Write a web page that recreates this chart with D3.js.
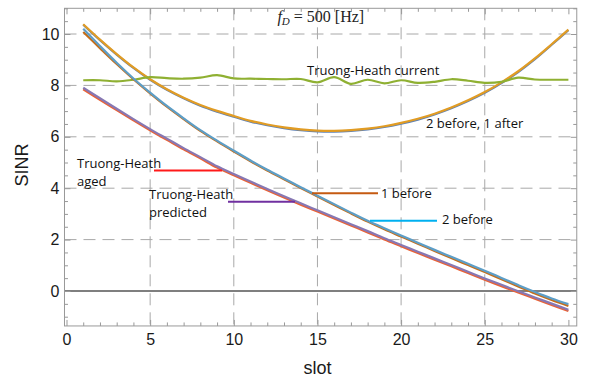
<!DOCTYPE html>
<html><head><meta charset="utf-8">
<script src="https://cdn.jsdelivr.net/npm/d3@7"></script>
<style>body{margin:0;background:#fff}</style>
</head><body>
<svg id="c" width="590" height="378"></svg>
<script>
const slots = [1,2,3,4,5,6,7,8,9,10,11,12,13,14,15,16,17,18,19,20,21,22,23,24,25,26,27,28,29,30];
// "2 before, 1 after" (orange) and the blue curve just beneath it
const twoBeforeOneAfter = [10.38,9.78,9.22,8.70,8.24,7.85,7.52,7.24,7.01,6.81,6.62,6.48,6.37,6.29,6.24,6.23,6.26,6.32,6.41,6.54,6.70,6.90,7.14,7.42,7.74,8.12,8.55,9.05,9.60,10.17];
const twoBeforeOneAfterB = [10.36,9.76,9.20,8.68,8.22,7.83,7.50,7.21,6.98,6.78,6.59,6.45,6.34,6.26,6.21,6.20,6.23,6.29,6.38,6.51,6.67,6.87,7.11,7.39,7.71,8.09,8.52,9.02,9.58,10.15];
const thCurrent = [8.20,8.20,8.16,8.22,8.32,8.28,8.26,8.30,8.40,8.27,8.26,8.25,8.24,8.25,8.12,8.32,8.06,8.22,8.08,8.20,8.10,8.14,8.24,8.18,8.10,8.14,8.30,8.23,8.22,8.22];
const thAged = [7.85,7.44,7.04,6.64,6.25,5.88,5.51,5.16,4.80,4.50,4.21,3.92,3.64,3.36,3.09,2.82,2.55,2.28,2.00,1.74,1.48,1.22,0.96,0.70,0.44,0.19,-0.06,-0.30,-0.54,-0.78];
const thPredicted = [7.91,7.50,7.09,6.69,6.30,5.93,5.56,5.21,4.85,4.55,4.26,3.97,3.69,3.41,3.14,2.87,2.60,2.33,2.05,1.79,1.53,1.27,1.01,0.75,0.49,0.24,-0.01,-0.25,-0.49,-0.73];
const oneBefore = [10.08,9.45,8.83,8.24,7.69,7.17,6.69,6.23,5.82,5.43,5.05,4.69,4.35,4.01,3.68,3.35,3.02,2.70,2.40,2.12,1.84,1.56,1.28,1.01,0.74,0.46,0.18,-0.10,-0.35,-0.58];
const twoBefore = [10.20,9.53,8.88,8.27,7.72,7.20,6.72,6.26,5.85,5.46,5.08,4.72,4.38,4.04,3.71,3.38,3.05,2.73,2.44,2.16,1.88,1.60,1.33,1.06,0.79,0.51,0.23,-0.04,-0.29,-0.51];
const xTicks = [0,5,10,15,20,25,30];
const xMinor = [0,1,2,3,4,5,6,7,8,9,10,11,12,13,14,15,16,17,18,19,20,21,22,23,24,25,26,27,28,29,30];
const yTicks = [0,2,4,6,8,10];
const yMinor = [-1,-0.5,0,0.5,1,1.5,2,2.5,3,3.5,4,4.5,5,5.5,6,6.5,7,7.5,8,8.5,9,9.5,10,10.5,11];
const xGrid = [5,10,15,20,25];
const yGrid = [2,4,6,8,10];

const svg = d3.select("#c");
const x = d3.scaleLinear().domain([0,30]).range([66.5,568.4]);
const y = d3.scaleLinear().domain([0,10]).range([291,34]);
const xLo = -0.12, xHi = 30.5, yLo = -1.36, yHi = 11.0;
const L = x(xLo), R = x(xHi), T = y(yHi), B = y(yLo);

// grid
const g = svg.append("g");
g.selectAll(".gx").data(xGrid).enter().append("line")
  .attr("x1",d=>x(d)).attr("x2",d=>x(d)).attr("y1",T).attr("y2",B)
  .attr("stroke","#a8a8a8").attr("stroke-width",1).attr("stroke-dasharray","12,7");
g.selectAll(".gy").data(yGrid).enter().append("line")
  .attr("x1",L).attr("x2",R).attr("y1",d=>y(d)).attr("y2",d=>y(d))
  .attr("stroke","#a8a8a8").attr("stroke-width",1).attr("stroke-dasharray","12,7");
// zero line
svg.append("line").attr("x1",L).attr("x2",R).attr("y1",y(0)).attr("y2",y(0))
  .attr("stroke","#555").attr("stroke-width",1.6);

// axes (inward ticks)
const frameCol = "#999";
function styleAxis(sel){
  sel.select(".domain").remove();
  sel.selectAll("line").attr("stroke",frameCol);
  sel.selectAll("text").attr("fill","#1a1a1a").attr("font-family","'Liberation Sans', Arial, sans-serif").attr("font-size","16px");
}
const xs = x.copy(), ys = y.copy();
svg.append("g").attr("transform",`translate(0,${B})`).call(d3.axisBottom(xs).tickValues(xMinor.filter(v=>v%5)).tickSize(-3.5).tickFormat("")).call(styleAxis);
svg.append("g").attr("transform",`translate(0,${B})`).call(d3.axisBottom(xs).tickValues(xTicks).tickSize(-6).tickPadding(8).tickFormat(d3.format("d"))).call(styleAxis);
svg.append("g").attr("transform",`translate(0,${T})`).call(d3.axisTop(xs).tickValues(xMinor.filter(v=>v%5)).tickSize(-3.5).tickFormat("")).call(styleAxis);
svg.append("g").attr("transform",`translate(0,${T})`).call(d3.axisTop(xs).tickValues(xTicks).tickSize(-6).tickFormat("")).call(styleAxis);
svg.append("g").attr("transform",`translate(${L},0)`).call(d3.axisLeft(ys).tickValues(yMinor.filter(v=>v%2)).tickSize(-3.5).tickFormat("")).call(styleAxis);
svg.append("g").attr("transform",`translate(${L},0)`).call(d3.axisLeft(ys).tickValues(yTicks).tickSize(-6).tickPadding(5).tickFormat(d3.format("d"))).call(styleAxis);
svg.append("g").attr("transform",`translate(${R},0)`).call(d3.axisRight(ys).tickValues(yMinor.filter(v=>v%2)).tickSize(-3.5).tickFormat("")).call(styleAxis);
svg.append("g").attr("transform",`translate(${R},0)`).call(d3.axisRight(ys).tickValues(yTicks).tickSize(-6).tickFormat("")).call(styleAxis);
svg.append("rect").attr("x",L).attr("y",T).attr("width",R-L).attr("height",B-T)
  .attr("fill","none").attr("stroke",frameCol).attr("stroke-width",1);

// series
const line = d3.line().x((d,i)=>x(slots[i])).y(d=>y(d)).curve(d3.curveCatmullRom.alpha(0.5));
const series = [
  {v:twoBeforeOneAfterB, c:"#5E81B5"},
  {v:twoBeforeOneAfter, c:"#E19C24"},
  {v:thCurrent, c:"#8FB032"},
  {v:thAged, c:"#EB6235"},
  {v:thPredicted, c:"#8778B3"},
  {v:oneBefore, c:"#C56E1A"},
  {v:twoBefore, c:"#5D9EC7"}
];
svg.append("g").selectAll("path").data(series).enter().append("path")
  .attr("d",d=>line(d.v)).attr("fill","none").attr("stroke",d=>d.c)
  .attr("stroke-width",2.2).attr("stroke-linejoin","round");

// title
const t = svg.append("text").attr("x",x(15.2)).attr("y",22).attr("text-anchor","middle")
  .attr("font-family","'Liberation Serif','DejaVu Serif',serif").attr("font-size","16px").attr("fill","#222");
t.append("tspan").attr("font-style","italic").text("f");
t.append("tspan").attr("font-style","italic").attr("font-size","11px").attr("dy",3).text("D");
t.append("tspan").attr("dy",-3).text(" = 500  [Hz]");

// axis labels
svg.append("text").attr("x",x(15)).attr("y",374).attr("text-anchor","middle")
  .attr("font-family","'Liberation Sans', Arial, sans-serif").attr("font-size","18px").attr("fill","#1a1a1a").text("slot");
svg.append("text").attr("transform",`translate(28,${y(4.9)}) rotate(-90)`).attr("text-anchor","middle")
  .attr("font-family","'Liberation Sans', Arial, sans-serif").attr("font-size","18px").attr("fill","#1a1a1a").text("SINR");

// annotations
const annFont = "'Open Sans', Lato, sans-serif";
function ann(tx,px,py){
  svg.append("text").attr("x",px).attr("y",py).attr("font-family",annFont).attr("font-size","13px").attr("fill","#111").text(tx);
}
function lead(x1,x2,yy,c){
  svg.append("line").attr("x1",x1).attr("x2",x2).attr("y1",yy).attr("y2",yy).attr("stroke",c).attr("stroke-width",2);
}
ann("Truong-Heath current",307,75);
ann("2 before, 1 after",426,128);
ann("Truong-Heath",77,168); ann("aged",77,186);
lead(154,222,170.5,"#FF1A1A");
ann("Truong-Heath",149,199); ann("predicted",149,217);
lead(228,295,201.7,"#7030A0");
ann("1 before",381,198);
lead(312,378,193.3,"#C55A11");
ann("2 before",442,224);
lead(370,437,220.7,"#00B0F0");
</script>
</body></html>
